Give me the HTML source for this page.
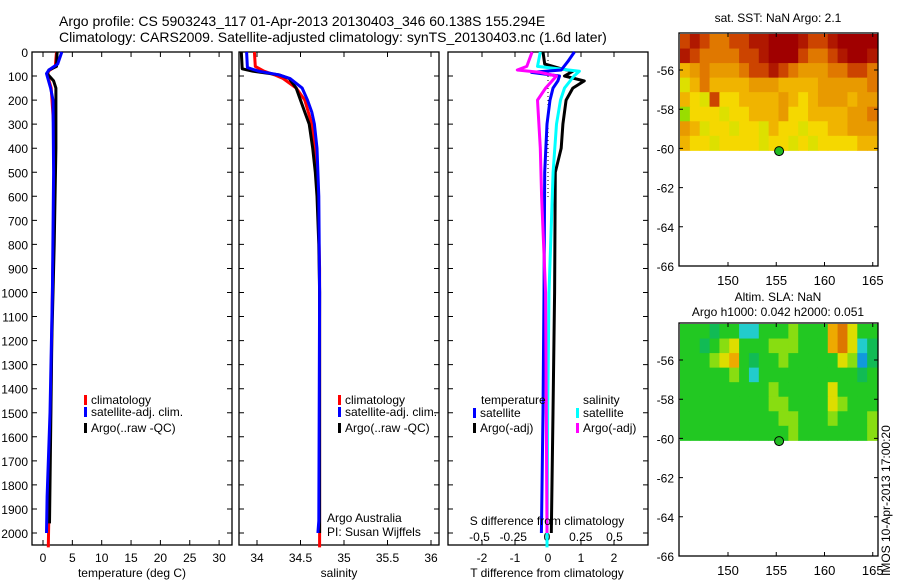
<!DOCTYPE html>
<html><head><meta charset="utf-8"><style>
body{margin:0;background:#fff}
svg{font-family:"Liberation Sans",sans-serif;font-size:12px}
</style></head><body>
<svg id="c" width="900" height="580" xmlns="http://www.w3.org/2000/svg">
<text x="59" y="26" font-size="14">Argo profile: CS 5903243_117 01-Apr-2013 20130403_346 60.138S 155.294E</text>
<text x="59" y="42" font-size="14">Climatology: CARS2009. Satellite-adjusted climatology: synTS_20130403.nc (1.6d later)</text>
<text x="778" y="22" text-anchor="middle">sat. SST: NaN Argo: 2.1</text>
<text x="778" y="301" text-anchor="middle">Altim. SLA: NaN</text>
<text x="778" y="316" text-anchor="middle">Argo h1000: 0.042 h2000: 0.051</text>
<text transform="translate(890,576) rotate(-90)" font-size="12">IMOS 10-Apr-2013 17:00:20</text>
<g id="g"></g>
</svg>
<script>
// ---- data ----
const depthTicks=[0,100,200,300,400,500,600,700,800,900,1000,1100,1200,1300,1400,1500,1600,1700,1800,1900,2000];
const tempTicks=[0,5,10,15,20,25,30];
const salTicks=[34,34.5,35,35.5,36];
const salTickLabels=["34","34.5","35","35.5","36"];
const tdTicks=[-2,-1,0,1,2];
const sdTicks=[-0.5,-0.25,0,0.25,0.5];
const sdTickLabels=["-0.5","-0.25","0","0.25","0.5"];
const tempClimD=[0,60,80,100,150,300,600,1000,1500,2060];
const tempClimV=[2.3,2.1,0.9,0.8,1.4,1.8,1.9,1.6,1.3,0.9];
const tempSatD=[0,50,75,90,150,200,500,1000,1500,1850,2000];
const tempSatV=[3.2,2.5,1.0,0.6,1.3,1.7,1.8,1.6,1.2,0.7,0.6];
const tempArgoD=[0,60,75,90,120,150,400,800,1200,1600,1960];
const tempArgoV=[2.4,2.3,1.0,0.7,1.8,2.2,2.2,1.9,1.5,1.3,1.1];
const salClimD=[0,60,80,95,110,150,200,300,400,600,900,2060];
const salClimV=[33.97,33.98,34.08,34.2,34.3,34.45,34.55,34.63,34.67,34.7,34.72,34.72];
const salSatD=[0,65,80,95,110,150,200,250,300,400,600,1000,1950,2000];
const salSatV=[33.88,33.89,34.02,34.25,34.38,34.52,34.58,34.63,34.66,34.69,34.71,34.72,34.71,34.7];
const salArgoD=[0,70,80,95,110,150,200,250,300,400,500,600,800,1000,2000];
const salArgoV=[33.82,33.83,33.95,34.25,34.37,34.45,34.5,34.55,34.6,34.64,34.67,34.69,34.71,34.72,34.72];
const dTSatD=[0,40,75,85,100,120,150,200,300,500,1000,1500,2000];
const dTSatV=[0.8,0.6,0.4,-0.5,0.35,0.3,0.15,0.06,-0.03,-0.1,-0.12,-0.15,-0.2];
const dTArgoD=[0,50,70,80,100,120,150,200,300,400,500,1000,1500,2000];
const dTArgoV=[-0.15,-0.1,0.4,0.75,0.5,1.1,0.75,0.55,0.45,0.4,0.22,0.2,0.15,0.1];
const dSSatD=[0,60,80,100,150,200,300,500,1000,1500,2060];
const dSSatV=[-0.05,-0.07,0.24,0.2,0.13,0.1,0.07,0.045,0.015,0.005,0];
const dSArgoD=[0,60,75,85,100,150,200,300,400,600,1000,2000];
const dSArgoV=[-0.11,-0.15,-0.22,-0.05,0.07,-0.01,-0.07,-0.06,-0.05,-0.04,-0.01,0];
const lonTicks=[150,155,160,165];
const latTicks=[-56,-58,-60,-62,-64,-66];
const sstGrid=[
[7,8,7,6,6,7,7,8,8,9,9,9,8,7,7,8,9,9,9,9],
[8,7,6,6,6,6,7,7,8,9,9,9,7,6,6,7,8,9,9,8],
[4,5,6,5,5,5,6,7,7,8,7,6,5,5,5,6,6,7,7,6],
[2,4,6,4,4,4,4,5,5,5,4,4,4,4,5,5,5,5,5,6],
[4,3,2,7,3,3,4,4,4,4,5,4,3,4,5,5,5,4,5,5],
[1,3,3,3,2,3,3,4,4,4,5,3,3,4,4,4,4,5,5,6],
[5,4,2,3,3,2,3,3,2,4,3,3,2,3,3,4,4,5,5,5],
[4,3,3,2,3,3,3,3,2,3,3,2,3,2,3,3,3,3,4,4]];
const slaGrid=[
[4,4,4,3,4,4,2,2,4,4,4,5,4,4,4,7,8,6,4,4],
[4,4,3,4,5,6,4,4,4,5,5,5,4,4,4,7,8,6,2,3],
[4,4,4,5,6,7,4,3,4,4,5,4,4,4,4,4,6,5,1,3],
[4,4,4,4,4,5,4,2,4,4,4,4,4,4,4,4,4,4,3,4],
[4,4,4,4,4,4,4,4,4,5,4,4,4,4,4,6,4,4,4,4],
[4,4,4,4,4,4,4,4,4,5,5,4,4,4,4,6,5,4,4,4],
[4,4,4,4,4,4,4,4,4,4,5,5,4,4,4,5,4,4,4,5],
[4,4,4,4,4,4,4,4,4,4,4,5,4,4,4,4,4,4,4,5]];
const argoLon=155.294, argoLat=-60.138;

// ---- helpers ----
const NS="http://www.w3.org/2000/svg";
const G=document.getElementById('g');
function mk(tag,a,parent){const e=document.createElementNS(NS,tag);for(const k in a)e.setAttribute(k,a[k]);(parent||G).appendChild(e);return e;}
function txt(x,y,s,anchor,size){const e=mk('text',{x:x,y:y,'text-anchor':anchor||'start'});if(size)e.setAttribute('font-size',size);e.textContent=s;return e;}
const yD=d=>52+d*0.2405;
const xT=t=>43+t*5.87;
const xS=s=>257+(s-34)*87;
const xDT=t=>548+t*33;
const xDS=s=>547+s*135;
const PT=52,PB=545;

function panel(x0,x1,name){
  const r=mk('rect',{x:x0,y:PT,width:x1-x0,height:PB-PT,fill:'none',stroke:'#000','stroke-width':1.3});
  
  
  depthTicks.forEach(d=>{const y=yD(d);
    const t=mk('path',{d:`M${x0},${y}h5M${x1},${y}h-5`,stroke:'#000'});
    
    
  });
}
function xticks(vals,f,labels,yl){
  vals.forEach((v,i)=>{const x=f(v);
    const t=mk('path',{d:`M${x},${PB}v-5M${x},${PT}v5`,stroke:'#000'});
    
    
    if(labels){const l=txt(x,yl,labels[i],'middle');
      
      }
  });
}
function line(D,V,fx,col,name){
  const pts=D.map((d,i)=>fx(V[i]).toFixed(1)+','+yD(d).toFixed(1)).join(' ');
  const p=mk('polyline',{points:pts,fill:'none',stroke:col,'stroke-width':3,'stroke-linejoin':'round'});
  
  
}
function legend(x,y,col,label){
  const r=mk('rect',{x:x,y:y-9,width:3,height:10,fill:col});
  
  
  const t=txt(x+7,y,label);
  
  
}

// Panel 1 temperature
panel(32,232,'temperature-axes');
depthTicks.forEach(d=>{const l=txt(28,yD(d)+5,String(d),'end');
  
  });
xticks(tempTicks,xT,tempTicks.map(String),562);
line(tempClimD,tempClimV,xT,'#f00','temp-climatology-line');
line(tempArgoD,tempArgoV,xT,'#000','temp-argo-line');
line(tempSatD,tempSatV,xT,'#00f','temp-satellite-line');
legend(84,404,'#f00','climatology');legend(84,416,'#00f','satellite-adj. clim.');legend(84,432,'#000','Argo(..raw -QC)');
{const t=txt(132,577,'temperature (deg C)','middle');}

// Panel 2 salinity
panel(239,439,'salinity-axes');
xticks(salTicks,xS,salTickLabels,562);
line(salClimD,salClimV,xS,'#f00','sal-climatology-line');
line(salArgoD,salArgoV,xS,'#000','sal-argo-line');
line(salSatD,salSatV,xS,'#00f','sal-satellite-line');
legend(338,404,'#f00','climatology');legend(338,416,'#00f','satellite-adj. clim.');legend(338,432,'#000','Argo(..raw -QC)');
{let t=txt(327,522,'Argo Australia');
 t=txt(327,536,'PI: Susan Wijffels');
 t=txt(339,577,'salinity','middle');}

// Panel 3 differences
panel(448,648,'difference-axes');
xticks(tdTicks,xDT,tdTicks.map(String),562);
sdTicks.forEach((v,i)=>{const l=txt(xDS(v),541,sdTickLabels[i],'middle');
  
  });
{const z=mk('line',{x1:548,y1:PT,x2:548,y2:200,stroke:'#000','stroke-dasharray':'1,3'});}
line(dTArgoD,dTArgoV,xDT,'#000','t-diff-argo-line');
line(dSSatD,dSSatV,xDS,'#0ff','s-diff-satellite-line');
line(dTSatD,dTSatV,xDT,'#00f','t-diff-satellite-line');
line(dSArgoD,dSArgoV,xDS,'#f0f','s-diff-argo-line');
{let t=txt(481,404,'temperature');
 t=txt(583,404,'salinity');}
legend(473,417,'#00f','satellite');legend(473,432,'#000','Argo(-adj)');
legend(576,417,'#0ff','satellite');legend(576,432,'#f0f','Argo(-adj)');
{let t=txt(547,525,'S difference from climatology','middle');
 t=txt(547,577,'T difference from climatology','middle');}

// Maps
const sstCols=['#22cc11','#99dd00','#dde000','#f5d800','#f0b400','#e89a00','#e07800','#cc4400','#b01800','#a00000'];
const slaCols=['#0044dd','#1199dd','#22cccc','#11bb55','#22c822','#88dd11','#dddd00','#eeaa00','#dd7700','#bb5500'];
function map(top,grid,cols,name){
  const x0=679,x1=878,lonX=l=>728+(l-150)*9.65;
  const latY=la=>top+37+(-56-la)*19.6;
  const bot=latY(-66);
  const gTop=top+1,gBot=latY(-60.1);
  const nr=grid.length,nc=grid[0].length,cw=(x1-x0-2)/nc,ch=(gBot-gTop)/nr;
  grid.forEach((row,i)=>row.forEach((v,j)=>{
    const c=mk('rect',{x:(x0+1+j*cw).toFixed(2),y:(gTop+i*ch).toFixed(2),width:(cw+0.5).toFixed(2),height:(ch+0.5).toFixed(2),fill:cols[v]});
    
    
  }));
  const r=mk('rect',{x:x0,y:top,width:x1-x0,height:bot-top,fill:'none',stroke:'#000','stroke-width':1.3});
  
  
  lonTicks.forEach(l=>{const x=lonX(l);
    const t=mk('path',{d:`M${x},${bot}v-4M${x},${top}v4`,stroke:'#000'});
    
    
    const lb=txt(x,bot+19,String(l),'middle',13);
    
    });
  latTicks.forEach(la=>{const y=latY(la);
    const t=mk('path',{d:`M${x0},${y}h4M${x1},${y}h-4`,stroke:'#000'});
    
    
    const lb=txt(674,y+5,String(la),'end');
    
    });
  const m=mk('circle',{cx:lonX(argoLon),cy:latY(argoLat),r:4.5,fill:'#22bb22',stroke:'#000'});
  
  
}
map(33,sstGrid,sstCols,'sst-map');
map(323,slaGrid,slaCols,'sla-map');
</script>
</body></html>
